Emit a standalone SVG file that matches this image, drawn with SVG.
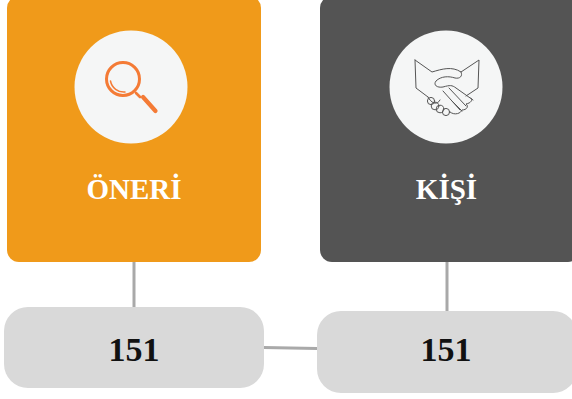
<svg xmlns="http://www.w3.org/2000/svg" width="572" height="399" viewBox="0 0 572 399">
<style>
.title{font-family:"Liberation Serif","Times New Roman",serif;font-weight:bold;font-size:29px;fill:#fff;text-anchor:middle}
.num{font-family:"Liberation Serif","Times New Roman",serif;font-weight:bold;font-size:34px;fill:#111;text-anchor:middle}
.box{fill:#d9d9d9}
.conn{stroke:#a9a9a9;stroke-width:3;fill:none}
.disc{fill:#f5f6f6}
.hs{fill:none;stroke:#555;stroke-width:1;stroke-linejoin:round;stroke-linecap:round}
.mg{fill:none;stroke:#f47b36;stroke-linecap:round}
</style>
<rect width="572" height="399" fill="#fff"/>
<g id="connectors">
<path class="conn" d="M134 262V307"/>
<path class="conn" d="M447 262V311"/>
<path class="conn" d="M264 347.500L317 348.500"/>
</g>
<g id="oneri">
<rect x="7" y="-4" width="254" height="266" rx="12" fill="#f09a1a"/>
<circle class="disc" cx="131" cy="87" r="56.500"/>
<g class="mg">
<circle cx="123" cy="79" r="16.500" stroke-width="3"/>
<path d="M110.500 81A13.500 13.500 0 0 0 125 92" stroke-width="1.500"/>
<path d="M136 93L140 97" stroke-width="2.600"/>
<path d="M143 97L155.500 111" stroke-width="4.200"/>
</g>
<text class="title" x="134" y="199">ÖNERİ</text>
</g>
<g id="kisi">
<rect x="320" y="-4" width="260" height="266" rx="12" fill="#545454"/>
<circle class="disc" cx="446" cy="87" r="56.500"/>
<g class="hs">
<path d="M415 60L432 72C442 69 452 66 461 72L479 60L478 88L466 96"/>
<path d="M415 60L416 88L428 97"/>
<path d="M461 72C463 76 460 79 455 78C449 76 441 76 436 81C433 85 437 88 443 87C450 85 452 85 456 88L473 100"/>
<path d="M428 97C431 103 437 106 440 100"/>
<path d="M449 88L466 106M443 91L460 110M452 101L462 111"/>
<circle cx="431" cy="101" r="3.600"/>
<circle cx="435" cy="106" r="3.800"/>
<circle cx="440" cy="109" r="3.800"/>
<circle cx="446" cy="112" r="3.600"/>
<path d="M450 112C455 116 461 113 462 110C467 110 469 106 466 104C471 103 473 100 471 98"/>
</g>
<text class="title" x="446.500" y="199">KİŞİ</text>
</g>
<g id="box1">
<rect class="box" x="4" y="307" width="260" height="81" rx="24"/>
<text class="num" x="134" y="361">151</text>
</g>
<g id="box2">
<rect class="box" x="317" y="311" width="260" height="82" rx="24"/>
<text class="num" x="446" y="361">151</text>
</g>
</svg>
